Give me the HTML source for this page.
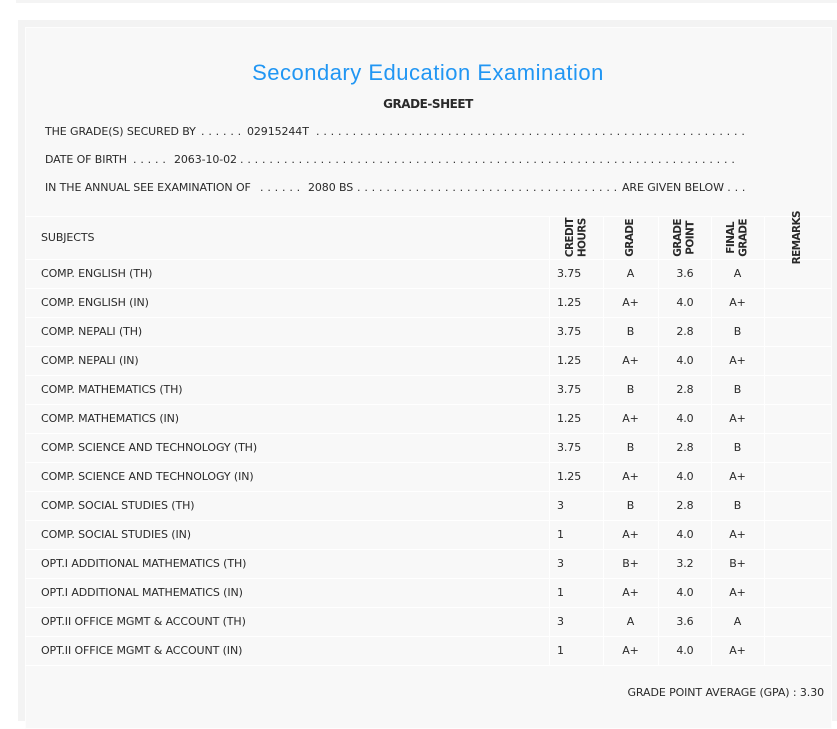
<!DOCTYPE html>
<html>
<head>
<meta charset="utf-8">
<style>
  html, body { margin:0; padding:0; }
  body { width:837px; height:721px; background:#ffffff; position:relative; overflow:hidden;
         font-family:"DejaVu Sans", "Liberation Sans", sans-serif; color:#2a2a2a; }
  .strip { position:absolute; left:16px; top:0; width:821px; height:3px; background:#f4f4f4; }
  .outer { position:absolute; left:18px; top:20px; width:819px; height:701px; background:#f3f3f3; }
  .inner { position:absolute; left:25px; top:27px; width:805px; height:700px; background:#f8f8f8; border:1px solid #fdfdfd; }
  .t { position:absolute; white-space:pre; font-size:11px; letter-spacing:-0.1px; line-height:20px; height:20px; }
  .d { letter-spacing:0.17px; }
  .title { position:absolute; left:25px; width:806px; top:58px; text-align:center; font-family:"Liberation Sans", sans-serif;
           font-size:22px; line-height:30px; color:#2196f3; letter-spacing:0.5px; white-space:nowrap; }
  .sub { position:absolute; left:25px; width:806px; top:94px; text-align:center; font-size:12px; font-weight:bold;
         line-height:20px; letter-spacing:-0.45px; color:#2a2a2a; }
  .h { position:absolute; left:25px; width:806px; height:1px; background:#ffffff; }
  .v { position:absolute; top:216px; height:450px; width:1px; background:#ffffff; }
  .r { position:absolute; left:0; width:837px; height:29px; line-height:29px; font-size:11px; letter-spacing:-0.1px; white-space:nowrap; }
  .r span { position:absolute; top:0; }
  .s { left:41px; }
  .c { left:557px; }
  .g { left:603px; width:55px; text-align:center; }
  .p { left:658px; width:54px; text-align:center; }
  .f { left:711px; width:53px; text-align:center; }
  .hc { position:absolute; top:216px; height:43px; display:flex; align-items:center; justify-content:center; }
  .vt { writing-mode:vertical-rl; transform:rotate(180deg); font-size:10.5px; font-weight:bold; letter-spacing:-0.6px;
        line-height:12.5px; text-align:center; white-space:nowrap; }
</style>
</head>
<body>
<div class="strip"></div>
<div class="outer"></div>
<div class="inner"></div>

<div class="title">Secondary Education Examination</div>
<div class="sub">GRADE-SHEET</div>

<!-- Line 1 -->
<div class="t" style="left:45px;top:122px;">THE GRADE(S) SECURED BY</div>
<div class="t d" style="left:201px;top:122px;">. . . . . .</div>
<div class="t" style="left:247px;top:122px;">02915244T</div>
<div class="t d" style="left:316px;top:122px;">. . . . . . . . . . . . . . . . . . . . . . . . . . . . . . . . . . . . . . . . . . . . . . . . . . . . . . . . . . .</div>

<!-- Line 2 -->
<div class="t" style="left:45px;top:150px;">DATE OF BIRTH</div>
<div class="t d" style="left:133px;top:150px;">. . . . .</div>
<div class="t" style="left:174px;top:150px;">2063-10-02</div>
<div class="t d" style="left:240px;top:150px;">. . . . . . . . . . . . . . . . . . . . . . . . . . . . . . . . . . . . . . . . . . . . . . . . . . . . . . . . . . . . . . . . . . . .</div>

<!-- Line 3 -->
<div class="t" style="left:45px;top:178px;">IN THE ANNUAL SEE EXAMINATION OF</div>
<div class="t d" style="left:260px;top:178px;">. . . . . .</div>
<div class="t" style="left:308px;top:178px;">2080 BS</div>
<div class="t d" style="left:357px;top:178px;">. . . . . . . . . . . . . . . . . . . . . . . . . . . . . . . . . . . .</div>
<div class="t" style="left:622px;top:178px;">ARE GIVEN BELOW <span class="d">. . .</span></div>

<!-- table lines -->
<div class="h" style="top:216px;"></div>
<div class="h" style="top:259px;"></div>
<div class="h" style="top:288px;"></div>
<div class="h" style="top:317px;"></div>
<div class="h" style="top:346px;"></div>
<div class="h" style="top:375px;"></div>
<div class="h" style="top:404px;"></div>
<div class="h" style="top:433px;"></div>
<div class="h" style="top:462px;"></div>
<div class="h" style="top:491px;"></div>
<div class="h" style="top:520px;"></div>
<div class="h" style="top:549px;"></div>
<div class="h" style="top:578px;"></div>
<div class="h" style="top:607px;"></div>
<div class="h" style="top:636px;"></div>
<div class="h" style="top:665px;"></div>
<div class="v" style="left:549px;"></div>
<div class="v" style="left:603px;"></div>
<div class="v" style="left:658px;"></div>
<div class="v" style="left:711px;"></div>
<div class="v" style="left:764px;"></div>

<!-- header -->
<div class="r" style="top:216px;height:43px;line-height:43px;"><span class="s">SUBJECTS</span></div>
<div class="hc" style="left:549px;width:54px;"><div class="vt">CREDIT<br>HOURS</div></div>
<div class="hc" style="left:603px;width:55px;"><div class="vt">GRADE</div></div>
<div class="hc" style="left:658px;width:53px;"><div class="vt">GRADE<br>POINT</div></div>
<div class="hc" style="left:711px;width:53px;"><div class="vt">FINAL<br>GRADE</div></div>
<div class="hc" style="left:764px;width:67px;"><div class="vt">REMARKS</div></div>

<!-- rows -->
<div class="r" style="top:259px;"><span class="s">COMP. ENGLISH (TH)</span><span class="c">3.75</span><span class="g">A</span><span class="p">3.6</span><span class="f">A</span></div>
<div class="r" style="top:288px;"><span class="s">COMP. ENGLISH (IN)</span><span class="c">1.25</span><span class="g">A+</span><span class="p">4.0</span><span class="f">A+</span></div>
<div class="r" style="top:317px;"><span class="s">COMP. NEPALI (TH)</span><span class="c">3.75</span><span class="g">B</span><span class="p">2.8</span><span class="f">B</span></div>
<div class="r" style="top:346px;"><span class="s">COMP. NEPALI (IN)</span><span class="c">1.25</span><span class="g">A+</span><span class="p">4.0</span><span class="f">A+</span></div>
<div class="r" style="top:375px;"><span class="s">COMP. MATHEMATICS (TH)</span><span class="c">3.75</span><span class="g">B</span><span class="p">2.8</span><span class="f">B</span></div>
<div class="r" style="top:404px;"><span class="s">COMP. MATHEMATICS (IN)</span><span class="c">1.25</span><span class="g">A+</span><span class="p">4.0</span><span class="f">A+</span></div>
<div class="r" style="top:433px;"><span class="s">COMP. SCIENCE AND TECHNOLOGY (TH)</span><span class="c">3.75</span><span class="g">B</span><span class="p">2.8</span><span class="f">B</span></div>
<div class="r" style="top:462px;"><span class="s">COMP. SCIENCE AND TECHNOLOGY (IN)</span><span class="c">1.25</span><span class="g">A+</span><span class="p">4.0</span><span class="f">A+</span></div>
<div class="r" style="top:491px;"><span class="s">COMP. SOCIAL STUDIES (TH)</span><span class="c">3</span><span class="g">B</span><span class="p">2.8</span><span class="f">B</span></div>
<div class="r" style="top:520px;"><span class="s">COMP. SOCIAL STUDIES (IN)</span><span class="c">1</span><span class="g">A+</span><span class="p">4.0</span><span class="f">A+</span></div>
<div class="r" style="top:549px;"><span class="s">OPT.I ADDITIONAL MATHEMATICS (TH)</span><span class="c">3</span><span class="g">B+</span><span class="p">3.2</span><span class="f">B+</span></div>
<div class="r" style="top:578px;"><span class="s">OPT.I ADDITIONAL MATHEMATICS (IN)</span><span class="c">1</span><span class="g">A+</span><span class="p">4.0</span><span class="f">A+</span></div>
<div class="r" style="top:607px;"><span class="s">OPT.II OFFICE MGMT &amp; ACCOUNT (TH)</span><span class="c">3</span><span class="g">A</span><span class="p">3.6</span><span class="f">A</span></div>
<div class="r" style="top:636px;"><span class="s">OPT.II OFFICE MGMT &amp; ACCOUNT (IN)</span><span class="c">1</span><span class="g">A+</span><span class="p">4.0</span><span class="f">A+</span></div>

<!-- GPA -->
<div class="t" style="left:523px;width:301px;text-align:right;top:683px;">GRADE POINT AVERAGE (GPA) : 3.30</div>
</body>
</html>
